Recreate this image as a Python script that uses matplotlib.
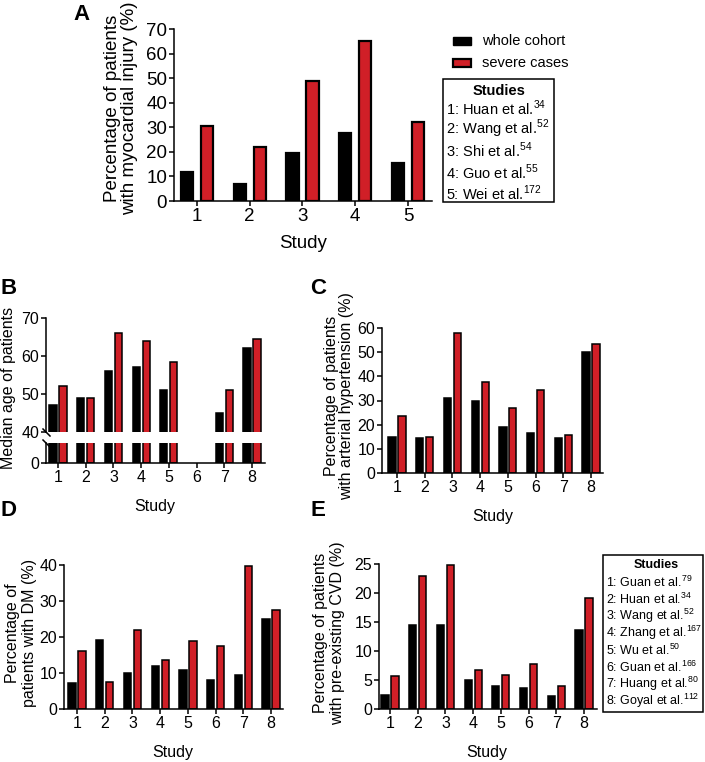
import numpy as np
import matplotlib
matplotlib.use('Agg')
import matplotlib.pyplot as plt
from matplotlib.patches import Rectangle
from matplotlib.lines import Line2D

plt.rcParams['font.family'] = ['Liberation Sans', 'DejaVu Sans']
plt.rcParams['mathtext.fontset'] = 'custom'
plt.rcParams['mathtext.rm'] = 'Liberation Sans'

# ---------------- data ----------------
a_studies = [1, 2, 3, 4, 5]
a_whole = [12, 7, 19.5, 27.5, 15.5]
a_severe = [30.5, 22, 49, 65, 32]
a_refs = ['1: Huan et al.$^{34}$', '2: Wang et al.$^{52}$', '3: Shi et al.$^{54}$',
          '4: Guo et al.$^{55}$', '5: Wei et al.$^{172}$']
legend_labels = ['whole cohort', 'severe cases']

studies8 = [1, 2, 3, 4, 5, 6, 7, 8]
b_whole = [47, 49, 56, 57, 51, np.nan, 45, 62]
b_severe = [52, 49, 66, 64, 58.5, np.nan, 51, 64.5]
c_whole = [15, 14.5, 31, 30, 19, 16.5, 14.3, 50]
c_severe = [23.5, 15, 58, 37.5, 27, 34.5, 15.8, 53.5]
d_whole = [7.3, 19.3, 10, 12, 10.8, 8, 9.4, 25]
d_severe = [16, 7.5, 22, 13.6, 18.8, 17.5, 39.8, 27.5]
e_whole = [2.4, 14.5, 14.4, 5, 3.9, 3.6, 2.2, 13.6]
e_severe = [5.7, 23, 24.9, 6.8, 5.9, 7.8, 3.9, 19.1]
e_refs = ['1: Guan et al.$^{79}$', '2: Huan et al.$^{34}$', '3: Wang et al.$^{52}$',
          '4: Zhang et al.$^{167}$', '5: Wu et al.$^{50}$', '6: Guan et al.$^{166}$',
          '7: Huang et al.$^{80}$', '8: Goyal et al.$^{112}$']

RED = '#d01f27'
W, H = 705, 762
fig = plt.figure(figsize=(W / 100, H / 100), dpi=100)

FS_A = 13.5   # panel A text
FS = 11.5     # panels B-E text


def ax_px(x0, y0, x1, y1):
    return fig.add_axes([x0 / W, 1 - y1 / H, (x1 - x0) / W, (y1 - y0) / H])


def style(ax, fs):
    for s in ['top', 'right']:
        ax.spines[s].set_visible(False)
    for s in ['left', 'bottom']:
        ax.spines[s].set_linewidth(1.1)
    ax.tick_params(direction='out', length=3.5, width=1.1, labelsize=fs, pad=1.5)


def bars(ax, x, whole, severe, width, off, lw):
    x = np.array(x, dtype=float)
    ax.bar(x - off, whole, width, color='black', edgecolor='black', linewidth=lw)
    ax.bar(x + off, severe, width, color=RED, edgecolor='black', linewidth=lw)


def ftext(x, y, s, **kw):
    fig.text(x / W, 1 - y / H, s, **kw)


def frect(x0, y0, x1, y1, **kw):
    fig.add_artist(Rectangle((x0 / W, 1 - y1 / H), (x1 - x0) / W, (y1 - y0) / H,
                             transform=fig.transFigure, **kw))


# ---------------- A ----------------
axA = ax_px(174, 29, 432, 201)
bars(axA, a_studies, a_whole, a_severe, 0.23, 0.19, 1.6)
axA.set_xlim(0.564, 5.455)
axA.set_ylim(0, 70)
axA.set_yticks(range(0, 71, 10))
axA.set_xticks(a_studies)
style(axA, FS_A)
ftext(121, 108, 'Percentage of patients\nwith myocardial injury (%)', rotation=90,
      ha='center', va='center', fontsize=FS_A, linespacing=1.0)
ftext(303, 243, 'Study', ha='center', va='center', fontsize=FS_A)
ftext(73, 14, 'A', fontsize=16, fontweight='bold', va='center')

# legend
frect(453, 37, 471, 45, facecolor='black', edgecolor='black', linewidth=1.0)
frect(453, 59, 471, 67, facecolor=RED, edgecolor='black', linewidth=1.6)
for i, lab in enumerate(legend_labels):
    ftext(482, 41 + i * 22, lab, ha='left', va='center', fontsize=10.5)

# studies box A
frect(443, 79, 554, 202, fill=False, edgecolor='black', linewidth=1.1)
ftext(499, 91, 'Studies', ha='center', va='center', fontsize=10.5, fontweight='bold')
for i, r in enumerate(a_refs):
    ftext(446, 108 + i * 21.3, r, ha='left', va='center', fontsize=10.5)

# ---------------- B (broken axis) ----------------
axB = ax_px(46, 318, 265, 432)
axB2 = ax_px(46, 443, 265, 463)
for ax in (axB, axB2):
    bars(ax, studies8, b_whole, b_severe, 0.26, 0.18, 1.1)
    ax.set_xlim(0.567, 8.47)
    style(ax, FS)
axB.set_ylim(40, 70)
axB.set_yticks([40, 50, 60, 70])
axB.spines['bottom'].set_visible(False)
axB.set_xticks([])
axB2.set_ylim(0, 5)
axB2.set_yticks([0])
axB2.set_xticks(studies8)
# break marks
for (xa, ya) in [(46, 432), (46, 443)]:
    fig.add_artist(Line2D([(xa - 3) / W, (xa + 4) / W], [1 - (ya - 3) / H, 1 - (ya + 4) / H],
                          color='black', linewidth=1.1, transform=fig.transFigure))
ftext(9, 388, 'Median age of patients', rotation=90, ha='center', va='center', fontsize=FS)
ftext(155, 507, 'Study', ha='center', va='center', fontsize=FS)
ftext(0, 288, 'B', fontsize=16, fontweight='bold', va='center')

# ---------------- C ----------------
axC = ax_px(382, 328, 603, 473)
bars(axC, studies8, c_whole, c_severe, 0.26, 0.18, 1.1)
axC.set_xlim(0.459, 8.43)
axC.set_ylim(0, 60)
axC.set_yticks(range(0, 61, 10))
axC.set_xticks(studies8)
style(axC, FS)
ftext(339, 396, 'Percentage of patients\nwith arterial hypertension (%)', rotation=90,
      ha='center', va='center', fontsize=FS, linespacing=0.95)
ftext(493, 516, 'Study', ha='center', va='center', fontsize=FS)
ftext(310, 288, 'C', fontsize=16, fontweight='bold', va='center')

# ---------------- D ----------------
axD = ax_px(64, 565, 283, 709)
bars(axD, studies8, d_whole, d_severe, 0.26, 0.18, 1.1)
axD.set_xlim(0.53, 8.43)
axD.set_ylim(0, 40)
axD.set_yticks(range(0, 41, 10))
axD.set_xticks(studies8)
style(axD, FS)
ftext(21, 633, 'Percentage of\npatients with DM (%)', rotation=90,
      ha='center', va='center', fontsize=FS, linespacing=1.2)
ftext(173, 753, 'Study', ha='center', va='center', fontsize=FS)
ftext(0, 510, 'D', fontsize=16, fontweight='bold', va='center')

# ---------------- E ----------------
axE = ax_px(379, 564, 597, 709)
bars(axE, studies8, e_whole, e_severe, 0.26, 0.18, 1.1)
axE.set_xlim(0.60, 8.47)
axE.set_ylim(0, 25)
axE.set_yticks(range(0, 26, 5))
axE.set_xticks(studies8)
style(axE, FS)
ftext(329, 633, 'Percentage of patients\nwith pre-existing CVD (%)', rotation=90,
      ha='center', va='center', fontsize=FS, linespacing=1.2)
ftext(487, 753, 'Study', ha='center', va='center', fontsize=FS)
ftext(311, 510, 'E', fontsize=16, fontweight='bold', va='center')

frect(603, 555, 703, 712, fill=False, edgecolor='black', linewidth=1.1)
ftext(656, 565, 'Studies', ha='center', va='center', fontsize=9, fontweight='bold')
for i, r in enumerate(e_refs):
    ftext(606, 582 + i * 17, r, ha='left', va='center', fontsize=9)

fig.savefig('out.png', dpi=100, facecolor='white')
